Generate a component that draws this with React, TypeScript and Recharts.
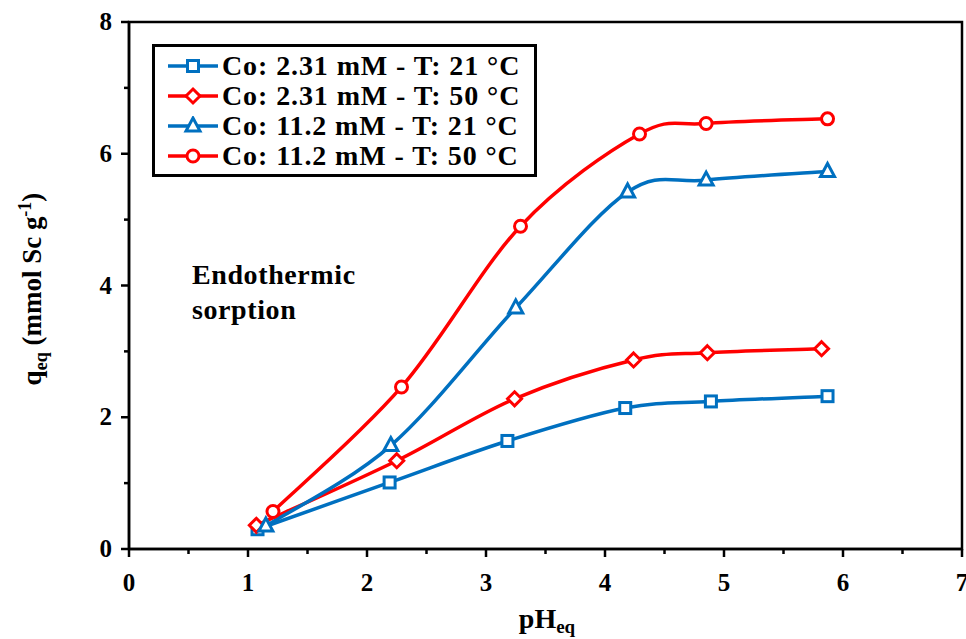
import { LineChart, Line, XAxis, YAxis, Legend, ReferenceArea, Customized } from 'recharts';

// pH_eq / q_eq readings per experiment
const phLow21 = [1.08, 2.19, 3.18, 4.17, 4.89, 5.87];
const qLow21 = [0.3, 1.01, 1.64, 2.14, 2.24, 2.32];

const phLow50 = [1.07, 2.25, 3.24, 4.24, 4.86, 5.82];
const qLow50 = [0.36, 1.34, 2.28, 2.87, 2.98, 3.04];

const phHigh21 = [1.15, 2.2, 3.25, 4.19, 4.85, 5.87];
const qHigh21 = [0.35, 1.57, 3.66, 5.42, 5.6, 5.73];

const phHigh50 = [1.21, 2.29, 3.29, 4.29, 4.85, 5.87];
const qHigh50 = [0.57, 2.46, 4.9, 6.3, 6.46, 6.53];

const xTicks = [0, 0.5, 1, 1.5, 2, 2.5, 3, 3.5, 4, 4.5, 5, 5.5, 6, 6.5, 7];
const yTicks = [0, 1, 2, 3, 4, 5, 6, 7, 8];

const BLUE = '#0070C0';
const RED = '#FF0000';
const FONT = '"Liberation Serif", "Times New Roman", serif';

const toRows = (xs: number[], ys: number[]) => xs.map((x, i) => ({ x, y: ys[i] }));

// Excel-style smoothed line (Catmull-Rom as cubic beziers)
const excelSmooth = (context: any) => {
  let pts: number[][] = [];
  return {
    areaStart() {},
    areaEnd() {},
    lineStart() {
      pts = [];
    },
    lineEnd() {
      if (!pts.length) return;
      context.moveTo(pts[0][0], pts[0][1]);
      for (let i = 0; i < pts.length - 1; i++) {
        const p0 = pts[Math.max(i - 1, 0)];
        const p1 = pts[i];
        const p2 = pts[i + 1];
        const p3 = pts[Math.min(i + 2, pts.length - 1)];
        context.bezierCurveTo(
          p1[0] + (p2[0] - p0[0]) / 6,
          p1[1] + (p2[1] - p0[1]) / 6,
          p2[0] - (p3[0] - p1[0]) / 6,
          p2[1] - (p3[1] - p1[1]) / 6,
          p2[0],
          p2[1]
        );
      }
    },
    point(x: number, y: number) {
      pts.push([+x, +y]);
    },
  };
};

type Shape = 'square' | 'diamond' | 'triangle' | 'circle';

const Marker = ({ cx, cy, shape, color }: { cx: number; cy: number; shape: Shape; color: string }) => {
  const sw = 3;
  if (shape === 'square') {
    return <rect x={cx - 5.5} y={cy - 5.5} width={11} height={11} fill="#fff" stroke={color} strokeWidth={sw} />;
  }
  if (shape === 'diamond') {
    const r = 7;
    return (
      <polygon
        points={`${cx},${cy - r} ${cx + r},${cy} ${cx},${cy + r} ${cx - r},${cy}`}
        fill="#fff"
        stroke={color}
        strokeWidth={sw}
      />
    );
  }
  if (shape === 'triangle') {
    return (
      <polygon
        points={`${cx},${cy - 8} ${cx + 7},${cy + 5} ${cx - 7},${cy + 5}`}
        fill="#fff"
        stroke={color}
        strokeWidth={sw}
      />
    );
  }
  return <circle cx={cx} cy={cy} r={6} fill="#fff" stroke={color} strokeWidth={sw} />;
};

const series = [
  { name: 'Co: 2.31 mM - T: 21 °C', data: toRows(phLow21, qLow21), color: BLUE, shape: 'square' as Shape },
  { name: 'Co: 2.31 mM - T: 50 °C', data: toRows(phLow50, qLow50), color: RED, shape: 'diamond' as Shape },
  { name: 'Co: 11.2 mM - T: 21 °C', data: toRows(phHigh21, qHigh21), color: BLUE, shape: 'triangle' as Shape },
  { name: 'Co: 11.2 mM - T: 50 °C', data: toRows(phHigh50, qHigh50), color: RED, shape: 'circle' as Shape },
];

const XTick = (props: any) => {
  const { x, y, payload } = props;
  const major = Number.isInteger(payload.value);
  return (
    <g>
      <line x1={x} y1={y} x2={x} y2={y + (major ? 8 : 5)} stroke="#000" strokeWidth={2.5} />
      {major && (
        <text x={x} y={y + 42} textAnchor="middle" fontFamily={FONT} fontWeight="bold" fontSize={25} fill="#000">
          {payload.value}
        </text>
      )}
    </g>
  );
};

const YTick = (props: any) => {
  const { x, y, payload } = props;
  const major = payload.value % 2 === 0;
  return (
    <g>
      <line x1={x - (major ? 8 : 5)} y1={y} x2={x} y2={y} stroke="#000" strokeWidth={2.5} />
      {major && (
        <text x={x - 17} y={y + 8} textAnchor="end" fontFamily={FONT} fontWeight="bold" fontSize={25} fill="#000">
          {payload.value}
        </text>
      )}
    </g>
  );
};

const LegendBox = () => (
  <div
    style={{
      border: '3px solid #000',
      background: '#fff',
      padding: '4px 0 3px 12px',
      fontFamily: FONT,
      fontWeight: 'bold',
      fontSize: 28,
      letterSpacing: 0.9,
      lineHeight: '30px',
      color: '#000',
      width: 367,
    }}
  >
    {series.map((s) => (
      <div key={s.name} style={{ display: 'flex', alignItems: 'center', whiteSpace: 'nowrap' }}>
        <svg width={52} height={20} style={{ marginRight: 3 }}>
          <line x1={1} y1={10} x2={51} y2={10} stroke={s.color} strokeWidth={3.5} />
          <Marker cx={26} cy={10} shape={s.shape} color={s.color} />
        </svg>
        {s.name}
      </div>
    ))}
  </div>
);

const Annotation = () => (
  <text fontFamily={FONT} fontWeight="bold" fontSize={28} letterSpacing={0.6} fill="#000">
    <tspan x={192} y={284}>Endothermic</tspan>
    <tspan x={192} y={319}>sorption</tspan>
  </text>
);

const YLabel = () => (
  <text
    transform="translate(41, 289) rotate(-90)"
    textAnchor="middle"
    fontFamily={FONT}
    fontWeight="bold"
    fontSize={27}
    fill="#000"
  >
    q<tspan fontSize={18} dy={6}>eq</tspan>
    <tspan dy={-6}> (mmol Sc g</tspan>
    <tspan fontSize={18} dy={-10}>-1</tspan>
    <tspan dy={10}>)</tspan>
  </text>
);

const XLabel = () => (
  <text x={547} y={628} textAnchor="middle" fontFamily={FONT} fontWeight="bold" fontSize={28} fill="#000">
    pH<tspan fontSize={19} dy={5}>eq</tspan>
  </text>
);

export default function App() {
  return (
    <div style={{ position: 'absolute', left: 0, top: 0, background: '#fff' }}>
      <LineChart width={966} height={639} margin={{ top: 22, right: 4, bottom: 0, left: 0 }}>
        <XAxis
          type="number"
          dataKey="x"
          domain={[0, 7]}
          ticks={xTicks}
          interval={0}
          allowDuplicatedCategory={false}
          height={90}
          tickSize={0}
          tickMargin={0}
          tickLine={false}
          axisLine={{ stroke: '#000', strokeWidth: 2.5 }}
          tick={<XTick />}
        />
        <YAxis
          type="number"
          dataKey="y"
          domain={[0, 8]}
          ticks={yTicks}
          interval={0}
          width={129}
          tickSize={0}
          tickMargin={0}
          tickLine={false}
          axisLine={{ stroke: '#000', strokeWidth: 2.5 }}
          tick={<YTick />}
        />
        <ReferenceArea x1={0} x2={7} y1={0} y2={8} fill="none" stroke="#000" strokeWidth={2.5} />
        {series.map((s) => (
          <Line
            key={s.name}
            data={s.data}
            dataKey="y"
            name={s.name}
            type={excelSmooth as any}
            stroke={s.color}
            strokeWidth={3.5}
            isAnimationActive={false}
            dot={(p: any) => <Marker key={`${s.name}-${p.index}`} cx={p.cx} cy={p.cy} shape={s.shape} color={s.color} />}
          />
        ))}
        <Legend
          layout="vertical"
          align="center"
          verticalAlign="middle"
          wrapperStyle={{ position: 'absolute', left: 152, top: 44, width: 'auto' }}
          content={() => <LegendBox />}
        />
        <Customized component={<Annotation />} />
        <Customized component={<YLabel />} />
        <Customized component={<XLabel />} />
      </LineChart>
    </div>
  );
}
